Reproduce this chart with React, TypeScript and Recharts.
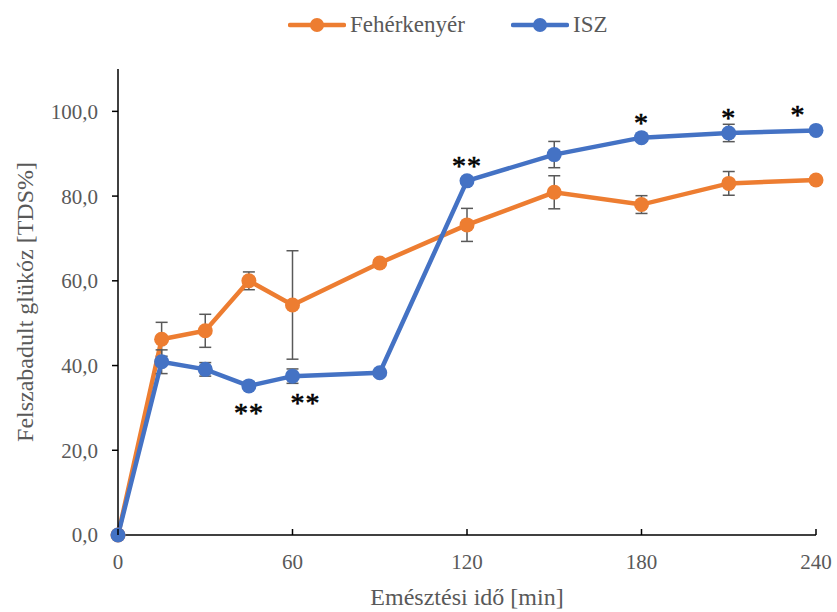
import { ErrorBar, LabelList, Line, LineChart, XAxis, YAxis } from 'recharts'

const times = [0, 15, 30, 45, 60, 90, 120, 150, 180, 210, 240]
const feherkenyer = [0, 46.2, 48.2, 60.0, 54.3, 64.2, 73.2, 80.9, 78.0, 83.0, 83.8]
const feherkenyerErr = [0, 4.0, 3.9, 2.1, 12.8, 0.8, 3.9, 3.9, 2.1, 2.8, 0.8]
const isz = [0, 40.9, 39.1, 35.2, 37.5, 38.3, 83.6, 89.8, 93.8, 94.9, 95.5]
const iszErr = [0, 2.8, 1.6, 0.8, 1.7, 0.8, 0.8, 3.1, 0.8, 2.05, 0.8]
const iszSig = ['', '', '', '**', '**', '', '**', '', '*', '*', '*']
const xTicks = [0, 60, 120, 180, 240]
const yTicks = [0, 20, 40, 60, 80, 100]

const ORANGE = '#ED7D31'
const BLUE = '#4472C4'
const GREY = '#595959'
const FONT = '"Liberation Serif", "DejaVu Serif", serif'

const chartData = times.map((t, i) => ({
  t,
  feher: feherkenyer[i],
  feherErr: feherkenyerErr[i],
  isz: isz[i],
  iszErr: iszErr[i],
  sig: iszSig[i],
}))

const fmt = (v: number) => v.toFixed(1).replace('.', ',')

// x ticks point inward (up), labels below
const XTick = (props: any) => {
  const { x, y, payload } = props
  return (
    <g>
      <line x1={x} y1={y} x2={x} y2={y - 6} stroke="#000" strokeWidth={1.5} />
      <text x={x} y={y + 34} textAnchor="middle" fontSize={21} fill={GREY} style={{ fontFamily: FONT }}>
        {payload.value}
      </text>
    </g>
  )
}

const SigLabel = (props: any) => {
  const { x, y, value, index } = props
  if (!value) return null
  const below = isz[index] < 50
  let dx = 0
  if (times[index] === 60) dx = 13
  if (times[index] === 240) dx = -18
  return (
    <text
      x={x + dx}
      y={below ? y + 36 : y - 6}
      textAnchor="middle"
      fontSize={28}
      fill="#000"
      stroke="#000"
      strokeWidth={0.6}
      style={{ fontFamily: FONT }}
      letterSpacing={1}
    >
      {value}
    </text>
  )
}

const LegendItem = ({ color, label, left }: { color: string; label: string; left: number }) => (
  <div style={{ position: 'absolute', left, top: 12, display: 'flex', alignItems: 'center' }}>
    <svg width={58} height={16}>
      <line x1={2} y1={8} x2={56} y2={8} stroke={color} strokeWidth={4.5} strokeLinecap="round" />
      <circle cx={29} cy={8} r={7} fill={color} />
    </svg>
    <span style={{ marginLeft: 4, fontSize: 23, color: GREY, fontFamily: FONT }}>{label}</span>
  </div>
)

export default function App() {
  return (
    <div style={{ position: 'fixed', left: 0, top: 0, width: 837, height: 612, background: '#fff', fontFamily: FONT }}>
      <LegendItem color={ORANGE} label="Fehérkenyér" left={288} />
      <LegendItem color={BLUE} label="ISZ" left={511} />
      <LineChart
        width={837}
        height={612}
        data={chartData}
        margin={{ top: 69, right: 21, left: 0, bottom: 0 }}
      >
        <XAxis
          dataKey="t"
          type="number"
          domain={[0, 240]}
          ticks={xTicks}
          height={77}
          tickSize={0}
          tickMargin={0}
          tick={<XTick />}
          axisLine={{ stroke: '#000', strokeWidth: 1.5 }}
          label={{
            value: 'Emésztési idő [min]',
            position: 'insideBottom',
            offset: 7,
            fontSize: 24,
            fill: GREY,
            style: { fontFamily: FONT },
          }}
        />
        <YAxis
          type="number"
          domain={[0, 110]}
          ticks={yTicks}
          width={118}
          tickSize={6}
          tickMargin={14}
          tickFormatter={fmt}
          tick={{ fontSize: 21, fill: GREY, style: { fontFamily: FONT } }}
          tickLine={{ stroke: '#000', strokeWidth: 1.5 }}
          axisLine={{ stroke: '#000', strokeWidth: 1.5 }}
          label={{
            value: 'Felszabadult glükóz [TDS%]',
            angle: -90,
            position: 'insideLeft',
            offset: 24,
            style: { textAnchor: 'middle', fontFamily: FONT },
            fontSize: 24,
            fill: GREY,
          }}
        />
        <Line
          dataKey="feher"
          name="Fehérkenyér"
          stroke={ORANGE}
          strokeWidth={4.5}
          dot={{ r: 7.5, fill: ORANGE, stroke: ORANGE, strokeWidth: 0 }}
          activeDot={false}
          isAnimationActive={false}
        >
          <ErrorBar dataKey="feherErr" direction="y" width={6} stroke={GREY} strokeWidth={1.5} />
        </Line>
        <Line
          dataKey="isz"
          name="ISZ"
          stroke={BLUE}
          strokeWidth={4.5}
          dot={{ r: 7.5, fill: BLUE, stroke: BLUE, strokeWidth: 0 }}
          activeDot={false}
          isAnimationActive={false}
        >
          <ErrorBar dataKey="iszErr" direction="y" width={6} stroke={GREY} strokeWidth={1.5} />
          <LabelList dataKey="sig" content={<SigLabel />} />
        </Line>
      </LineChart>
    </div>
  )
}
